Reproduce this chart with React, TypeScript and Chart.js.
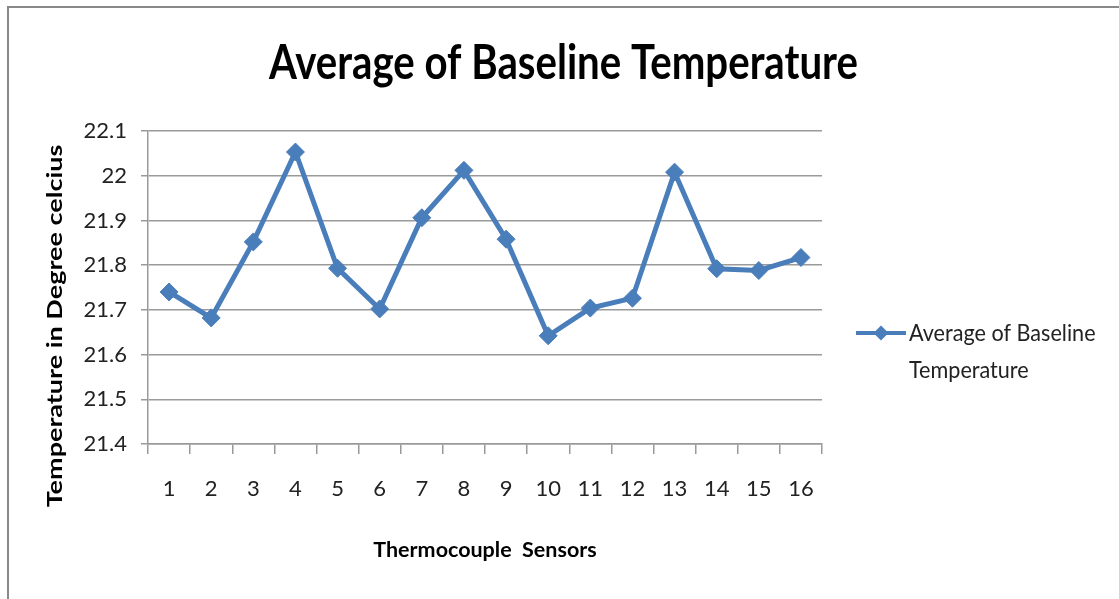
import React, { useEffect, useRef } from "react";
import { Chart, registerables } from "chart.js";

Chart.register(...registerables);

const categories = ["1", "2", "3", "4", "5", "6", "7", "8", "9", "10", "11", "12", "13", "14", "15", "16"];
const seriesLabel = "Average of Baseline Temperature";
const seriesValues = [21.74, 21.682, 21.852, 22.053, 21.793, 21.702, 21.906, 22.012, 21.858, 21.642, 21.704, 21.726, 22.008, 21.792, 21.788, 21.817];
const yTicks = [21.4, 21.5, 21.6, 21.7, 21.8, 21.9, 22.0, 22.1];
const chartTitle = "Average of Baseline Temperature";
const xTitle = "Thermocouple  Sensors";
const yTitle = "Temperature in Degree celcius";

const FONT = "Lato, 'Open Sans', sans-serif";
const BLUE = "#4A7EBB";

const extrasPlugin = {
  id: "extras",
  afterDraw(chart: any) {
    const ctx = chart.ctx;
    const area = chart.chartArea;

    // chart title (condensed)
    ctx.save();
    ctx.fillStyle = "#000";
    ctx.font = `bold 47px ${FONT}`;
    ctx.textAlign = "center";
    ctx.textBaseline = "alphabetic";
    ctx.translate(chart.width / 2 + 4, area.top - 52);
    ctx.scale(0.855, 1);
    ctx.fillText(chartTitle, 0, 0);
    ctx.restore();

    // y-axis title
    ctx.save();
    ctx.fillStyle = "#000";
    ctx.font = `bold 27px ${FONT}`;
    ctx.textAlign = "center";
    ctx.textBaseline = "middle";
    ctx.translate(55, area.bottom - 118);
    ctx.rotate(-Math.PI / 2);
    ctx.scale(1, 0.78);
    ctx.fillText(yTitle, 0, 0);
    ctx.restore();

    // x-axis title
    ctx.save();
    ctx.fillStyle = "#000";
    ctx.font = `bold 21.5px ${FONT}`;
    ctx.textAlign = "center";
    ctx.textBaseline = "middle";
    ctx.fillText(xTitle, (area.left + area.right) / 2, area.bottom + 106);
    ctx.restore();

    // legend
    const ds = chart.data.datasets[0];
    const lx = area.right + 34;
    const ly = area.top + 202;
    ctx.save();
    ctx.strokeStyle = ds.borderColor;
    ctx.lineWidth = 4;
    ctx.beginPath();
    ctx.moveTo(lx, ly);
    ctx.lineTo(lx + 50, ly);
    ctx.stroke();
    ctx.fillStyle = ds.borderColor;
    ctx.beginPath();
    const r = 7.5;
    ctx.moveTo(lx + 25, ly - r);
    ctx.lineTo(lx + 25 + r, ly);
    ctx.lineTo(lx + 25, ly + r);
    ctx.lineTo(lx + 25 - r, ly);
    ctx.closePath();
    ctx.fill();
    ctx.fillStyle = "#222";
    ctx.font = `24px ${FONT}`;
    ctx.textAlign = "left";
    ctx.textBaseline = "middle";
    const tx = lx + 53;
    const sx = 0.9;
    const maxW = (chart.width - tx - 8) / sx;
    const words = String(ds.label).split(" ");
    const lines: string[] = [];
    let cur = "";
    for (const w of words) {
      const test = cur ? cur + " " + w : w;
      if (ctx.measureText(test).width > maxW && cur) {
        lines.push(cur);
        cur = w;
      } else cur = test;
    }
    if (cur) lines.push(cur);
    ctx.translate(tx, ly);
    ctx.scale(sx, 1);
    lines.forEach((l, i) => ctx.fillText(l, 0, i * 37));
    ctx.restore();
  },
};

export default function App() {
  const ref = useRef<HTMLCanvasElement>(null);
  useEffect(() => {
    document.body.style.margin = "0";
    const chart = new Chart(ref.current!, {
      type: "line",
      data: {
        labels: categories,
        datasets: [
          {
            label: seriesLabel,
            data: seriesValues,
            borderColor: BLUE,
            backgroundColor: BLUE,
            borderWidth: 5,
            pointStyle: "rectRot",
            pointRadius: 9,
            pointBackgroundColor: BLUE,
            pointBorderColor: BLUE,
            pointBorderWidth: 1,
            tension: 0,
          },
        ],
      },
      options: {
        animation: false,
        responsive: true,
        maintainAspectRatio: false,
        layout: { padding: { left: 0, right: 297, top: 131, bottom: 0 } },
        plugins: {
          legend: { display: false },
          tooltip: { enabled: false },
          title: { display: false },
        },
        scales: {
          x: {
            offset: true,
            grid: {
              offset: true,
              drawOnChartArea: false,
              drawTicks: true,
              tickLength: 10,
              color: "#9a9a9a",
              lineWidth: 1.5,
            },
            border: { display: true, color: "#9a9a9a", width: 1.5 },
            ticks: { color: "#222", font: { family: FONT, size: 22 }, padding: 22, maxRotation: 0 },
            afterFit(scale: any) {
              scale.height = 155;
            },
          },
          y: {
            min: 21.4,
            max: 22.1,
            afterBuildTicks(scale: any) {
              scale.ticks = yTicks.map((v) => ({ value: v }));
            },
            grid: { color: "#9a9a9a", lineWidth: 1.5, tickLength: 7 },
            border: { display: true, color: "#9a9a9a", width: 1.5 },
            ticks: {
              color: "#222",
              font: { family: FONT, size: 22 },
              padding: 14,
              callback: (v: any) => String(Number(Number(v).toFixed(1))),
            },
            afterFit(scale: any) {
              scale.width = 148;
            },
          },
        },
      },
      plugins: [extrasPlugin],
    });
    return () => chart.destroy();
  }, []);
  return (
    <div style={{ position: "fixed", left: 0, top: 0, width: 1119, height: 599, background: "#fff" }}>
      <div
        style={{
          position: "absolute",
          left: 7,
          top: 6,
          right: -10,
          bottom: -10,
          borderLeft: "2px solid #888",
          borderTop: "2px solid #888",
          pointerEvents: "none",
        }}
      />
      <canvas ref={ref} />
    </div>
  );
}
